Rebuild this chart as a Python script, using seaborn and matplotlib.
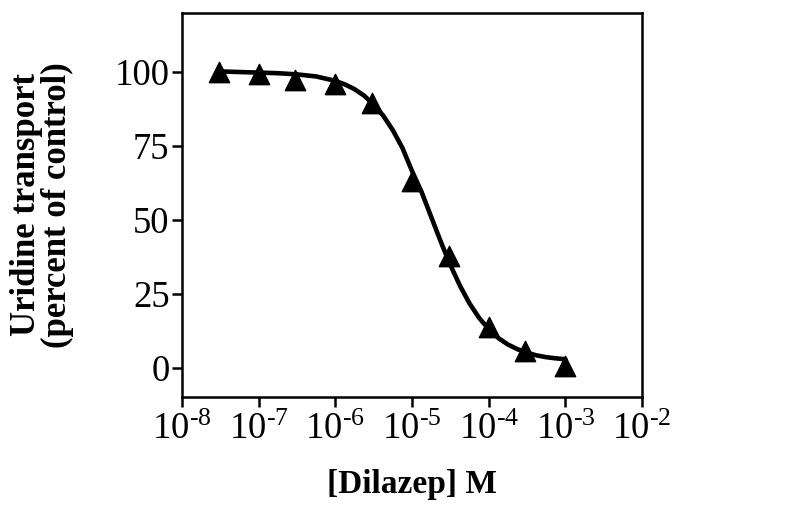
import matplotlib
matplotlib.use("Agg")
import matplotlib.pyplot as plt
import matplotlib.ticker as mticker
import seaborn as sns
import pandas as pd

# measured points
conc = [3e-8, 1e-7, 3e-7, 1e-6, 3e-6, 1e-5, 3e-5, 1e-4, 3e-4, 1e-3]
transport = [100.0, 99.4, 97.2, 96.0, 89.5, 63.0, 37.8, 13.8, 5.6, 0.6]

# fitted curve (log10 concentration, percent)
curve_logx = [-7.5, -7.25, -7.0, -6.75, -6.5, -6.25, -6.0, -5.875, -5.75, -5.625,
              -5.5, -5.375, -5.25, -5.125, -5.0, -4.875, -4.75, -4.625, -4.5,
              -4.375, -4.25, -4.125, -4.0, -3.875, -3.75, -3.625, -3.5, -3.375,
              -3.25, -3.125, -3.0]
curve_y = [100.2, 100.0, 99.8, 99.6, 99.2, 98.5, 97.0, 95.8, 94.2, 92.0,
           89.0, 85.2, 80.3, 74.3, 66.5, 59.4, 51.0, 42.6, 34.7,
           27.7, 21.7, 16.8, 13.0, 10.0, 7.8, 6.2, 5.0, 4.1,
           3.5, 3.1, 2.8]

xtick_vals = [1e-8, 1e-7, 1e-6, 1e-5, 1e-4, 1e-3, 1e-2]
xtick_labels = [r"$10^{\text{-}8}$", r"$10^{\text{-}7}$", r"$10^{\text{-}6}$",
                r"$10^{\text{-}5}$", r"$10^{\text{-}4}$", r"$10^{\text{-}3}$",
                r"$10^{\text{-}2}$"]
ytick_vals = [0, 25, 50, 75, 100]

sns.set_style("ticks")
plt.rcParams['font.family'] = ['Liberation Serif', 'DejaVu Serif']
plt.rcParams['mathtext.fontset'] = 'custom'
plt.rcParams['mathtext.rm'] = 'Liberation Serif'
plt.rcParams['mathtext.it'] = 'Liberation Serif:italic'
plt.rcParams['mathtext.bf'] = 'Liberation Serif:bold'
for k in ['text.color', 'axes.labelcolor', 'xtick.color', 'ytick.color',
          'axes.edgecolor']:
    plt.rcParams[k] = 'black'

fig = plt.figure(figsize=(7.95, 5.17), dpi=100)
ax = fig.add_axes([0.229, 0.232, 0.5785, 0.743])

df_curve = pd.DataFrame({"x": [10 ** v for v in curve_logx], "y": curve_y})
df_pts = pd.DataFrame({"x": conc, "y": transport})

sns.lineplot(data=df_curve, x="x", y="y", ax=ax, color="black", linewidth=3.3,
             estimator=None, sort=False)
sns.scatterplot(data=df_pts, x="x", y="y", ax=ax, marker="^", s=215,
                color="black", edgecolor="black", linewidth=1, zorder=5)

ax.set_xscale("log")
ax.set_xlim(1e-8, 1e-2)
ax.set_ylim(-10, 120)
ax.set_xticks(xtick_vals)
ax.set_xticklabels(xtick_labels)
ax.xaxis.set_minor_locator(mticker.NullLocator())
ax.set_yticks(ytick_vals)
ax.set_yticklabels([str(v) for v in ytick_vals])

for sp in ax.spines.values():
    sp.set_linewidth(1.8)
    sp.set_color("black")
    sp.set_visible(True)

ax.tick_params(axis="both", which="major", direction="out", length=7, width=1.8,
               labelsize=26.5, colors="black")
ax.tick_params(axis="y", pad=2)
ax.tick_params(axis="x", pad=4)

ax.set_xlabel("[Dilazep] M", fontsize=24, fontweight="bold", color="black")
ax.xaxis.set_label_coords(0.5, -0.187)
ax.xaxis.label.set_verticalalignment("top")
ax.set_ylabel("Uridine transport\n(percent of control)", fontsize=25,
              fontweight="bold", linespacing=0.92, color="black")
ax.yaxis.set_label_coords(-0.235, 0.5)

fig.savefig("out.png", dpi=100, facecolor="white")
